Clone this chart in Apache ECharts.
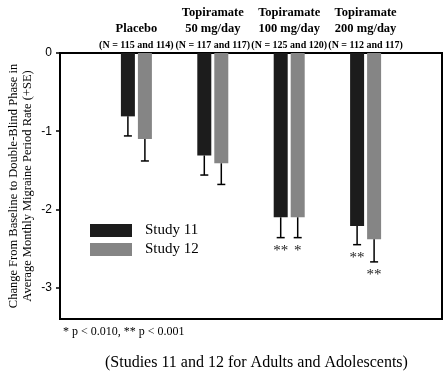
<!DOCTYPE html>
<html><head><meta charset="utf-8">
<script src="https://cdn.jsdelivr.net/npm/echarts@6/dist/echarts.min.js"></script>
<style>html,body{margin:0;padding:0;background:#fff}#c{width:448px;height:376px}</style>
</head><body><div id="c"></div>
<script>
const groupTitle = ['Placebo', 'Topiramate', 'Topiramate', 'Topiramate'];
const groupDose = ['', '50 mg/day', '100 mg/day', '200 mg/day'];
const groupN = ['(N = 115 and 114)', '(N = 117 and 117)', '(N = 125 and 120)', '(N = 112 and 117)'];
const study11 = [-0.81, -1.31, -2.10, -2.21];
const study11Err = [-1.06, -1.56, -2.36, -2.45];
const study11Sig = ['', '', '**', '**'];
const study12 = [-1.10, -1.41, -2.10, -2.38];
const study12Err = [-1.38, -1.68, -2.36, -2.67];
const study12Sig = ['', '', '*', '**'];
const yTicks = [0, -1, -2, -3];
const seriesNames = ['Study 11', 'Study 12'];

const cats = ['pad0'].concat(groupTitle.map((t, i) => 'g' + i), ['pad1']);
const pad = arr => ['-'].concat(arr, ['-']);
const BAR_W = 14, BAR_GAP = 3;
const offs = [-(BAR_W + BAR_GAP) / 2, (BAR_W + BAR_GAP) / 2];
function errData(vals, errs, sig, k) {
  return vals.map((v, i) => [i + 1, v, errs[i], sig[i], k]);
}
const serif = 'Liberation Serif';

const chart = echarts.init(document.getElementById('c'));
chart.setOption({
  animation: false,
  grid: { left: 60, right: 6, top: 53, bottom: 57, show: true, borderColor: '#000', borderWidth: 2, backgroundColor: 'transparent', outerBoundsMode: 'none', containLabel: false },
  legend: {
    data: seriesNames, orient: 'vertical', left: 85, top: 218, itemWidth: 42, itemHeight: 13, itemGap: 4,
    icon: 'rect', textStyle: { fontFamily: serif, fontSize: 15, color: '#000', padding: [0, 0, 0, 8] }
  },
  xAxis: {
    type: 'category', data: cats, boundaryGap: false, position: 'top',
    axisLine: { lineStyle: { color: '#000', width: 2 } }, axisTick: { show: false },
    axisLabel: {
      interval: 0, margin: -1, fontFamily: serif, color: '#000', lineHeight: 16,
      formatter: (val, idx) => {
        if (idx === 0 || idx === cats.length - 1) return '';
        const i = idx - 1;
        let s = '{b|' + groupTitle[i] + '}';
        if (groupDose[i]) s += '\n{b|' + groupDose[i] + '}';
        return s + '\n{n|' + groupN[i] + '}';
      },
      rich: {
        b: { fontFamily: serif, fontWeight: 'bold', fontSize: 12.5, lineHeight: 16, color: '#000' },
        n: { fontFamily: serif, fontWeight: 'bold', fontSize: 10, lineHeight: 17, color: '#000' }
      }
    }
  },
  yAxis: {
    type: 'value', min: -3.4, max: 0,
    splitLine: { show: false },
    axisLine: { show: true, lineStyle: { color: '#000', width: 2 } },
    axisTick: { show: true, length: 4, customValues: yTicks, lineStyle: { color: '#000', width: 1.5 } },
    axisLabel: { customValues: yTicks, fontFamily: 'Liberation Sans', fontSize: 12, color: '#000', margin: 8 },
    name: 'Change From Baseline to Double-Blind Phase in\nAverage Monthly Migraine Period Rate (+SE)',
    nameLocation: 'middle', nameRotate: 90, nameGap: 25, nameMoveOverlap: false,
    nameTextStyle: { fontFamily: serif, fontSize: 12.5, lineHeight: 14, color: '#000' }
  },
  series: [
    { name: seriesNames[0], type: 'bar', data: pad(study11), barWidth: BAR_W, barGap: (BAR_GAP / BAR_W * 100) + '%', itemStyle: { color: '#1c1c1c' } },
    { name: seriesNames[1], type: 'bar', data: pad(study12), barWidth: BAR_W, itemStyle: { color: '#858585' } },
    {
      type: 'custom', data: errData(study11, study11Err, study11Sig, 0).concat(errData(study12, study12Err, study12Sig, 1)),
      encode: { x: 0, y: 1 }, z: 5,
      renderItem: (params, api) => {
        const k = api.value(4);
        const top = api.coord([api.value(0), api.value(1)]);
        const bot = api.coord([api.value(0), api.value(2)]);
        const x = top[0] + offs[k];
        const children = [
          { type: 'line', shape: { x1: x, y1: top[1], x2: x, y2: bot[1] }, style: { stroke: '#000', lineWidth: 1.5 } },
          { type: 'line', shape: { x1: x - 4, y1: bot[1], x2: x + 4, y2: bot[1] }, style: { stroke: '#000', lineWidth: 1.5 } }
        ];
        const sig = api.value(3);
        if (sig) children.push({ type: 'text', style: { text: sig, x: x, y: bot[1] + 6, align: 'center', verticalAlign: 'top', fontFamily: serif, fontSize: 15, fill: '#222' } });
        return { type: 'group', children };
      }
    }
  ],
  graphic: [
    { type: 'text', left: 63, top: 326, style: { text: '* p < 0.010, ** p < 0.001', fontFamily: serif, fontSize: 12, fill: '#000' } },
    { type: 'text', left: 105, top: 355, style: { text: '(Studies 11 and 12 for Adults and Adolescents)', fontFamily: serif, fontSize: 16, fill: '#000' } }
  ]
});
</script></body></html>
